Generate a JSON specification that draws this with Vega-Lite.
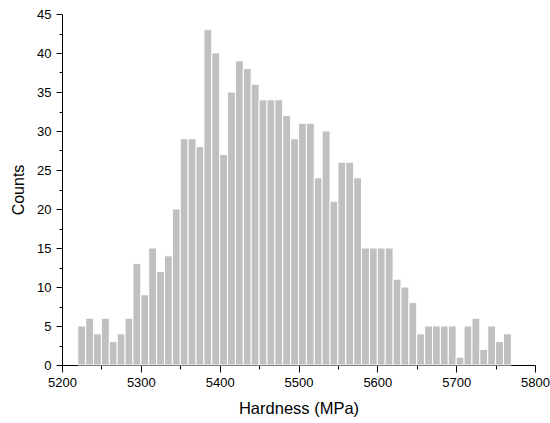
{
  "$schema": "https://vega.github.io/schema/vega-lite/v6.json",
  "width": 473,
  "height": 351,
  "autosize": {"type": "none"},
  "padding": {"left": 62, "top": 14, "right": 15, "bottom": 58},
  "background": "white",
  "config": {
    "view": {"stroke": null},
    "font": "Liberation Sans",
    "axis": {
      "domainColor": "black",
      "tickColor": "black",
      "labelColor": "black",
      "titleColor": "black",
      "grid": false,
      "labelFont": "Liberation Sans",
      "titleFont": "Liberation Sans",
      "titleFontWeight": "normal",
      "domainWidth": 1,
      "tickWidth": 1
    }
  },
  "data": {
    "values": [
      {"lo": 5220, "hi": 5230, "count": 5},
      {"lo": 5230, "hi": 5240, "count": 6},
      {"lo": 5240, "hi": 5250, "count": 4},
      {"lo": 5250, "hi": 5260, "count": 6},
      {"lo": 5260, "hi": 5270, "count": 3},
      {"lo": 5270, "hi": 5280, "count": 4},
      {"lo": 5280, "hi": 5290, "count": 6},
      {"lo": 5290, "hi": 5300, "count": 13},
      {"lo": 5300, "hi": 5310, "count": 9},
      {"lo": 5310, "hi": 5320, "count": 15},
      {"lo": 5320, "hi": 5330, "count": 12},
      {"lo": 5330, "hi": 5340, "count": 14},
      {"lo": 5340, "hi": 5350, "count": 20},
      {"lo": 5350, "hi": 5360, "count": 29},
      {"lo": 5360, "hi": 5370, "count": 29},
      {"lo": 5370, "hi": 5380, "count": 28},
      {"lo": 5380, "hi": 5390, "count": 43},
      {"lo": 5390, "hi": 5400, "count": 40},
      {"lo": 5400, "hi": 5410, "count": 27},
      {"lo": 5410, "hi": 5420, "count": 35},
      {"lo": 5420, "hi": 5430, "count": 39},
      {"lo": 5430, "hi": 5440, "count": 38},
      {"lo": 5440, "hi": 5450, "count": 36},
      {"lo": 5450, "hi": 5460, "count": 34},
      {"lo": 5460, "hi": 5470, "count": 34},
      {"lo": 5470, "hi": 5480, "count": 34},
      {"lo": 5480, "hi": 5490, "count": 32},
      {"lo": 5490, "hi": 5500, "count": 29},
      {"lo": 5500, "hi": 5510, "count": 31},
      {"lo": 5510, "hi": 5520, "count": 31},
      {"lo": 5520, "hi": 5530, "count": 24},
      {"lo": 5530, "hi": 5540, "count": 30},
      {"lo": 5540, "hi": 5550, "count": 21},
      {"lo": 5550, "hi": 5560, "count": 26},
      {"lo": 5560, "hi": 5570, "count": 26},
      {"lo": 5570, "hi": 5580, "count": 24},
      {"lo": 5580, "hi": 5590, "count": 15},
      {"lo": 5590, "hi": 5600, "count": 15},
      {"lo": 5600, "hi": 5610, "count": 15},
      {"lo": 5610, "hi": 5620, "count": 15},
      {"lo": 5620, "hi": 5630, "count": 11},
      {"lo": 5630, "hi": 5640, "count": 10},
      {"lo": 5640, "hi": 5650, "count": 8},
      {"lo": 5650, "hi": 5660, "count": 4},
      {"lo": 5660, "hi": 5670, "count": 5},
      {"lo": 5670, "hi": 5680, "count": 5},
      {"lo": 5680, "hi": 5690, "count": 5},
      {"lo": 5690, "hi": 5700, "count": 5},
      {"lo": 5700, "hi": 5710, "count": 1},
      {"lo": 5710, "hi": 5720, "count": 5},
      {"lo": 5720, "hi": 5730, "count": 6},
      {"lo": 5730, "hi": 5740, "count": 2},
      {"lo": 5740, "hi": 5750, "count": 5},
      {"lo": 5750, "hi": 5760, "count": 3},
      {"lo": 5760, "hi": 5770, "count": 4}
    ]
  },
  "mark": {"type": "bar", "fill": "#c0c0c0", "stroke": "white", "strokeWidth": 1},
  "encoding": {
    "x": {
      "field": "lo",
      "type": "quantitative",
      "scale": {"domain": [5200, 5800], "nice": false, "zero": false},
      "axis": {
        "title": "Hardness (MPa)",
        "titleFontSize": 16.5,
        "titlePadding": 11,
        "labelFontSize": 13,
        "labelPadding": 4,
        "values": [5200, 5250, 5300, 5350, 5400, 5450, 5500, 5550, 5600, 5650, 5700, 5750, 5800],
        "labelExpr": "datum.value % 100 === 0 ? datum.label : ''",
        "format": "d",
        "tickSize": {"expr": "datum.value % 100 === 0 ? 7 : 4"},
        "labelFlush": false,
        "labelOverlap": false
      }
    },
    "x2": {"field": "hi"},
    "y": {
      "field": "count",
      "type": "quantitative",
      "scale": {"domain": [0, 45], "nice": false},
      "axis": {
        "title": "Counts",
        "titleFontSize": 16,
        "titlePadding": 10,
        "labelFontSize": 13,
        "labelPadding": 5,
        "values": [0, 2.5, 5, 7.5, 10, 12.5, 15, 17.5, 20, 22.5, 25, 27.5, 30, 32.5, 35, 37.5, 40, 42.5, 45],
        "labelExpr": "datum.value % 5 === 0 ? datum.label : ''",
        "tickSize": {"expr": "datum.value % 5 === 0 ? 6 : 3"},
        "labelOverlap": false,
        "labelFlush": false
      }
    },
    "y2": {"datum": 0}
  }
}
